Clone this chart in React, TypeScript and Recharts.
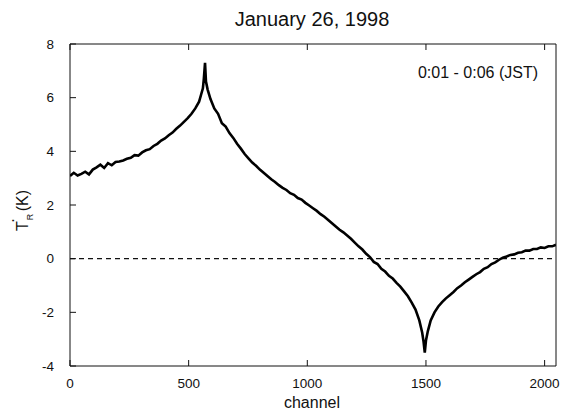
import { LineChart, Line, XAxis, YAxis, ReferenceLine } from 'recharts';

// channel numbers (x) and antenna temperature T_R' in K (y)
const CHANNELS = [
  0, 16, 32, 48, 64, 80, 96, 112, 128, 144, 160, 176, 192, 208, 224, 240,
  256, 272, 288, 304, 320, 336, 352, 368, 384, 400, 416, 432, 448, 464, 480, 496,
  512, 528, 544, 552, 560, 564, 569, 573, 580, 592, 608, 624, 640, 656, 672, 688,
  704, 720, 736, 752, 768, 784, 800, 816, 832, 848, 864, 880, 896, 912, 928, 944,
  960, 976, 992, 1008, 1024, 1040, 1056, 1072, 1088, 1104, 1120, 1136, 1152, 1168, 1184, 1200,
  1216, 1232, 1248, 1264, 1280, 1296, 1312, 1328, 1344, 1360, 1376, 1392, 1408, 1424, 1440, 1456,
  1472, 1484, 1490, 1495, 1500, 1508, 1520, 1536, 1552, 1568, 1584, 1600, 1616, 1632, 1648, 1664,
  1680, 1696, 1712, 1728, 1744, 1760, 1776, 1792, 1808, 1824, 1840, 1856, 1872, 1888, 1904, 1920,
  1936, 1952, 1968, 1984, 2000, 2016, 2032, 2048,
];

const TR = [
  3.08, 3.2, 3.1, 3.16, 3.24, 3.14, 3.32, 3.4, 3.5, 3.38, 3.56, 3.48, 3.6, 3.62, 3.66, 3.72,
  3.76, 3.86, 3.84, 3.96, 4.04, 4.08, 4.2, 4.28, 4.4, 4.48, 4.6, 4.7, 4.84, 4.96, 5.1, 5.24,
  5.4, 5.6, 5.85, 6.1, 6.35, 6.7, 7.3, 6.6, 6.3, 5.95, 5.6, 5.4, 5.05, 4.92, 4.68, 4.5,
  4.28, 4.1, 3.9, 3.74, 3.58, 3.46, 3.32, 3.2, 3.08, 2.96, 2.86, 2.74, 2.64, 2.56, 2.44, 2.38,
  2.26, 2.2, 2.08, 1.98, 1.88, 1.78, 1.66, 1.56, 1.44, 1.32, 1.2, 1.08, 0.98, 0.86, 0.74, 0.6,
  0.46, 0.34, 0.18, 0.06, -0.12, -0.2, -0.38, -0.48, -0.64, -0.74, -0.9, -1.04, -1.22, -1.4, -1.64, -1.9,
  -2.3, -2.75, -3.1, -3.5, -3.05, -2.7, -2.3, -2.0, -1.78, -1.62, -1.48, -1.36, -1.24, -1.1, -1.0, -0.88,
  -0.78, -0.68, -0.58, -0.5, -0.38, -0.32, -0.2, -0.14, -0.04, 0.04, 0.08, 0.14, 0.16, 0.22, 0.24, 0.3,
  0.3, 0.36, 0.36, 0.42, 0.4, 0.46, 0.46, 0.52,
];

const X_TICKS = [0, 500, 1000, 1500, 2000];
const Y_TICKS = [-4, -2, 0, 2, 4, 6, 8];

const FONT = '"Liberation Sans", Arial, Helvetica, sans-serif';
const INK = '#111';

export default function App() {
  const data = CHANNELS.map((ch, i) => ({ ch, tr: TR[i] }));
  const tickStyle = { fill: INK, fontSize: 13.5, fontFamily: FONT };
  const noLabel = () => '';

  return (
    <div style={{ position: 'absolute', left: 0, top: 0, width: 563, height: 418, background: '#fff' }}>
      <LineChart width={563} height={418} data={data} margin={{ top: 43, right: 6, bottom: 22, left: 10 }}>
        <XAxis
          xAxisId="b"
          dataKey="ch"
          type="number"
          domain={[0, 2048]}
          ticks={X_TICKS}
          allowDataOverflow
          height={30}
          tickSize={-6}
          tickMargin={18}
          tick={tickStyle}
          axisLine={{ stroke: INK }}
          tickLine={{ stroke: INK }}
        />
        <XAxis
          xAxisId="t"
          orientation="top"
          dataKey="ch"
          type="number"
          domain={[0, 2048]}
          ticks={X_TICKS}
          height={1}
          tickSize={-6}
          tickFormatter={noLabel}
          axisLine={{ stroke: INK }}
          tickLine={{ stroke: INK }}
        />
        <YAxis
          yAxisId="l"
          type="number"
          domain={[-4, 8]}
          ticks={Y_TICKS}
          width={60}
          tickSize={-6}
          tickMargin={22}
          tick={tickStyle}
          axisLine={{ stroke: INK }}
          tickLine={{ stroke: INK }}
        />
        <YAxis
          yAxisId="r"
          orientation="right"
          type="number"
          domain={[-4, 8]}
          ticks={Y_TICKS}
          width={1}
          tickSize={-6}
          tickFormatter={noLabel}
          axisLine={{ stroke: INK }}
          tickLine={{ stroke: INK }}
        />
        <ReferenceLine xAxisId="b" yAxisId="l" y={0} stroke={INK} strokeWidth={1.2} strokeDasharray="5 4" />
        <Line
          xAxisId="b"
          yAxisId="l"
          type="linear"
          dataKey="tr"
          stroke="#000"
          strokeWidth={2.6}
          dot={false}
          isAnimationActive={false}
        />
      </LineChart>
      <svg width={563} height={418} style={{ position: 'absolute', left: 0, top: 0, pointerEvents: 'none' }}>
        <text x={312} y={26} textAnchor="middle" fontSize={20} fontFamily={FONT} fill={INK}>
          January 26, 1998
        </text>
        <text x={538} y={78} textAnchor="end" fontSize={16} fontFamily={FONT} fill={INK}>
          0:01 - 0:06 (JST)
        </text>
        <text x={312} y={408} textAnchor="middle" fontSize={16} fontFamily={FONT} fill={INK}>
          channel
        </text>
        <g transform="translate(28,231) rotate(-90)">
          <text x={0} y={0} textAnchor="start" fontSize={16} fontFamily={FONT} fill={INK}>
            T<tspan fontSize={9} dx={1} dy={5}>R</tspan>
            <tspan dx={-9} dy={-19}>.</tspan>
            <tspan dx={7} dy={14}>(K)</tspan>
          </text>
        </g>
      </svg>
    </div>
  );
}
